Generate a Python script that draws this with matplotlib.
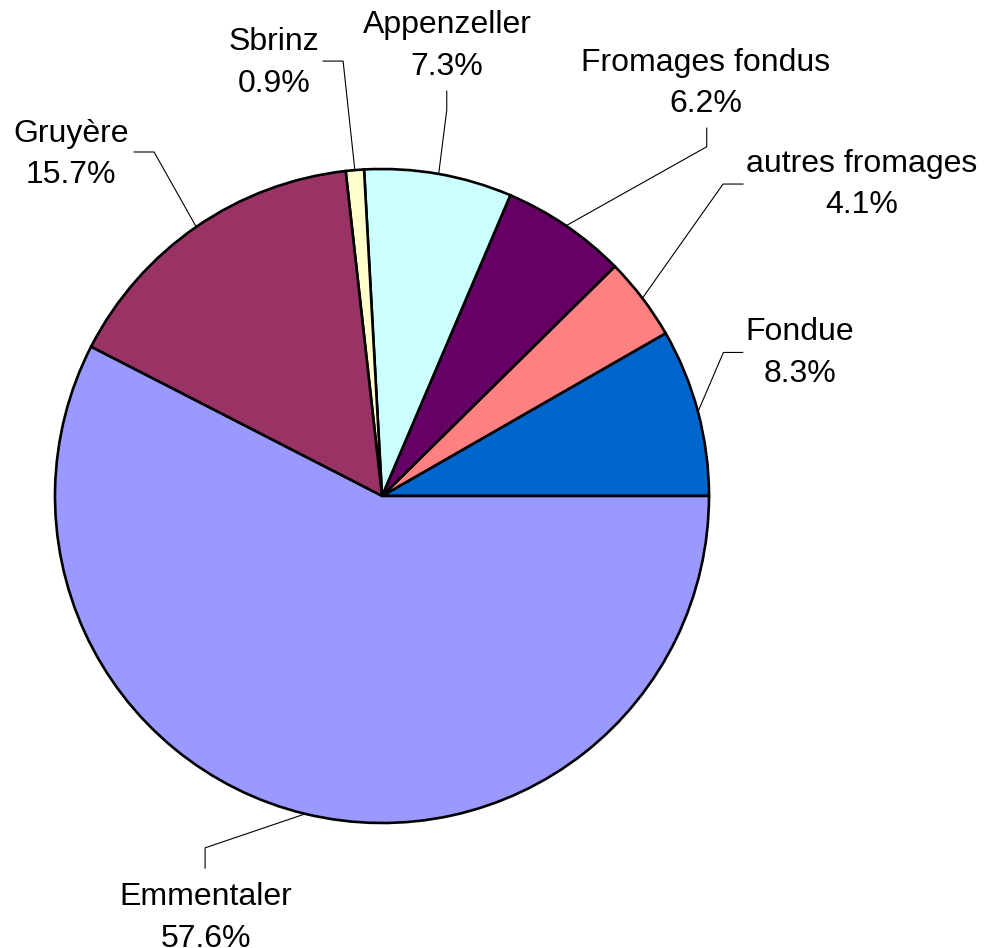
import numpy as np
import matplotlib
matplotlib.use("Agg")
import matplotlib.pyplot as plt

plt.rcParams['font.family'] = ['Liberation Sans', 'DejaVu Sans']

# data
labels = ['Fondue', 'autres fromages', 'Fromages fondus', 'Appenzeller',
          'Sbrinz', 'Gruyère', 'Emmentaler']
shares = [8.3, 4.1, 6.2, 7.3, 0.9, 15.7, 57.6]
colors = ['#0066CC', '#FF8080', '#660066', '#CCFFFF',
          '#FFFFCC', '#993366', '#9999FF']

# label layout (in pie radius units): elbow, line end, text x, text baseline y
layout = {
    'Fondue':          ((1.044, 0.439), (1.103, 0.439), 1.278, 0.349),
    'autres fromages': ((1.043, 0.954), (1.104, 0.954), 1.468, 0.865),
    'Fromages fondus': ((0.993, 1.068), (0.993, 1.125), 0.991, 1.174),
    'Appenzeller':     ((0.198, 1.180), (0.198, 1.238), 0.199, 1.288),
    'Sbrinz':          ((-0.119, 1.330), (-0.180, 1.330), -0.330, 1.236),
    'Gruyère':         ((-0.697, 1.052), (-0.758, 1.052), -0.951, 0.957),
    'Emmentaler':      ((-0.541, -1.076), (-0.541, -1.138), -0.538, -1.379),
}

fig = plt.figure(figsize=(9.85, 9.48), dpi=100)
ax = fig.add_axes([0, 0, 1, 1])

wedges, _ = ax.pie(shares, colors=colors, startangle=0, counterclock=True,
                   wedgeprops=dict(edgecolor='black', linewidth=1.9))

for w, lab, val in zip(wedges, labels, shares):
    mid = np.deg2rad((w.theta1 + w.theta2) / 2)
    px, py = np.cos(mid), np.sin(mid)
    elbow, end, tx, ty = layout[lab]
    ax.plot([px, elbow[0], end[0]], [py, elbow[1], end[1]],
            color='black', lw=0.8, zorder=0.5)
    ax.text(tx, ty, f'{lab}\n{val:.1f}%', ha='center', va='baseline',
            fontsize=23, linespacing=1.5, multialignment='center')

ax.set_aspect('equal')
ax.set_xlim(-382 / 327, (985 - 382) / 327)
ax.set_ylim((496 - 948) / 327, 496 / 327)
ax.axis('off')

fig.savefig('out.png', dpi=100)
plt.close(fig)
